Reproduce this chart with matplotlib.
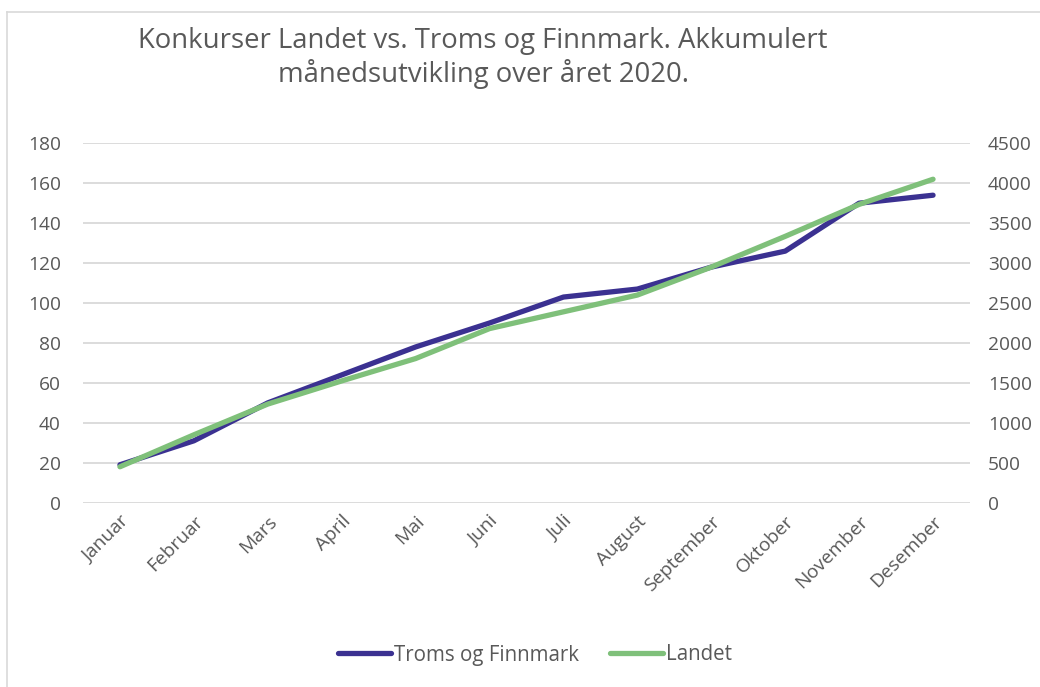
import matplotlib
matplotlib.use("Agg")
import matplotlib.pyplot as plt
from matplotlib.lines import Line2D

# data
months = ["Januar", "Februar", "Mars", "April", "Mai", "Juni", "Juli",
          "August", "September", "Oktober", "November", "Desember"]
troms = [19, 31, 50, 64, 78, 90, 103, 107, 118, 126, 150, 154]
landet = [450, 850, 1235, 1525, 1805, 2180, 2390, 2600, 2950, 3335, 3735, 4050]

left_ticks = list(range(0, 181, 20))
right_ticks = list(range(0, 4501, 500))

purple = "#3B3191"
green = "#7FC07A"
grey = "#595959"
grid = "#D9D9D9"

plt.rcParams["font.family"] = ["Open Sans", "DejaVu Sans"]

fig = plt.figure(figsize=(10.4, 6.87), dpi=100)
ax = fig.add_axes([83 / 1040, 1 - 502.7 / 687, (970 - 83) / 1040, (502.7 - 143.3) / 687])
ax2 = ax.twinx()

x = list(range(len(months)))
ax.plot(x, troms, color=purple, lw=3.8, solid_capstyle="round", solid_joinstyle="round", zorder=3)
ax2.plot(x, landet, color=green, lw=3.8, solid_capstyle="round", solid_joinstyle="round", zorder=3)

ax.set_xlim(-0.5, len(months) - 0.5)
ax.set_ylim(0, 180)
ax2.set_ylim(0, 4500)
ax.set_yticks(left_ticks)
ax2.set_yticks(right_ticks)
ax.grid(axis="y", color=grid, lw=1.3)
ax.set_axisbelow(True)

for a in (ax, ax2):
    for s in a.spines.values():
        s.set_visible(False)
    a.tick_params(axis="y", length=0, labelsize=13.8, labelcolor=grey)
ax.tick_params(axis="y", pad=16)
ax2.tick_params(axis="y", pad=13)

ax.set_xticks(x)
ax.set_xticklabels(months, rotation=45, ha="right", rotation_mode="anchor",
                   fontsize=13.8, color=grey)
ax.tick_params(axis="x", length=0, pad=7)

fig.text(483 / 1040, 1 - 58 / 687,
         "Konkurser Landet vs. Troms og Finnmark. Akkumulert\nmånedsutvikling over året 2020.",
         ha="center", va="center", fontsize=19.8, color=grey, linespacing=1.2)

handles = [Line2D([], [], color=purple, lw=3.8, solid_capstyle="round"),
           Line2D([], [], color=green, lw=3.8, solid_capstyle="round")]
fig.legend(handles, ["Troms og Finnmark", "Landet"], loc="center",
           bbox_to_anchor=(535 / 1040, 1 - 655 / 687), ncol=2, frameon=False,
           fontsize=14.8, labelcolor=grey, handlelength=2.6, handletextpad=0.15,
           columnspacing=1.5)

# chart border (left and top edges visible in the reference)
fig.add_artist(Line2D([7 / 1040, 7 / 1040], [0, 1 - 12 / 687], color=grid, lw=1.2))
fig.add_artist(Line2D([7 / 1040, 1], [1 - 12 / 687, 1 - 12 / 687], color=grid, lw=1.2))

fig.savefig("out.png", dpi=100)
